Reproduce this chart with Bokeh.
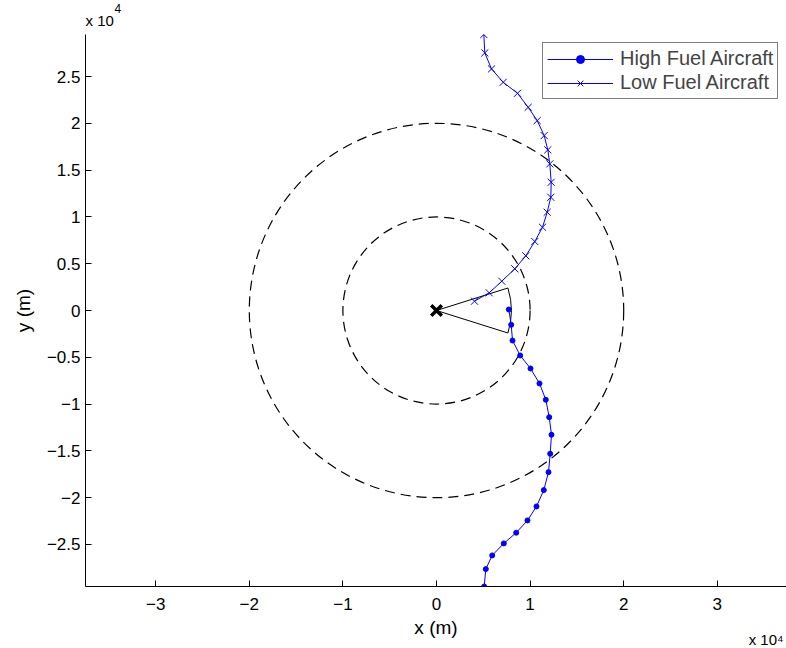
from bokeh.plotting import figure
from bokeh.models import Range1d, FixedTicker, Legend, LegendItem, Label
from bokeh.embed import file_html
from bokeh.resources import INLINE
import math

# ---- data (metres) ----
high_x = [7724, 7981, 8120, 8942, 10043, 11004, 11677, 12041, 12286, 12147,
          11966, 11464, 10684, 9722, 8515, 7190, 5951, 5267, 5096]
high_y = [107, -1528, -3205, -4808, -6197, -7799, -9541, -11400, -13280, -15310,
          -17276, -19199, -20940, -22436, -23750, -24893, -26175, -27639, -29500]

low_x = [5053, 5160, 5876, 7126, 8654, 9797, 10759, 11506, 11891, 12105,
         12254, 12212, 11827, 11325, 10502, 9541, 8365, 6977, 5630, 4060]
low_y = [29500, 27532, 25823, 24391, 23216, 21720, 20299, 18697, 17169, 15673,
         13707, 12104, 10502, 8899, 7372, 5844, 4455, 3130, 1891, 994]

ring_radii = [10000, 20000]
wedge_radius = 8000
wedge_half_angle_deg = 17.5
origin = (0, 0)

x_ticks = [-30000, -20000, -10000, 0, 10000, 20000, 30000]
x_tick_labels = ["\u22123", "\u22122", "\u22121", "0", "1", "2", "3"]
y_ticks = [-25000, -20000, -15000, -10000, -5000, 0, 5000, 10000, 15000, 20000, 25000]
y_tick_labels = ["\u22122.5", "\u22122", "\u22121.5", "\u22121", "\u22120.5", "0",
                 "0.5", "1", "1.5", "2", "2.5"]

FONT = "Liberation Sans"
FS = "17px"
BLUE = "#0000ff"

x_start, x_end = -37500, 37393
y_start, y_end = -29500, 29500

p = figure(width=786, height=648,
           x_range=Range1d(x_start, x_end), y_range=Range1d(y_start, y_end),
           output_backend="svg", toolbar_location=None,
           min_border_left=85, min_border_right=0,
           min_border_top=34, min_border_bottom=62)
p.outline_line_color = None
p.xgrid.grid_line_color = None
p.ygrid.grid_line_color = None
p.background_fill_color = "white"
p.border_fill_color = "white"

# axes
p.xaxis.ticker = FixedTicker(ticks=x_ticks)
p.xaxis.major_label_overrides = dict(zip(x_ticks, x_tick_labels))
p.yaxis.ticker = FixedTicker(ticks=y_ticks)
p.yaxis.major_label_overrides = dict(zip(y_ticks, y_tick_labels))
for ax in (p.xaxis, p.yaxis):
    ax.axis_line_color = "black"
    ax.major_tick_line_color = "black"
    ax.major_tick_in = 6
    ax.major_tick_out = 0
    ax.minor_tick_line_color = None
    ax.major_label_text_font = FONT
    ax.major_label_text_font_size = FS
    ax.major_label_text_color = "black"
    ax.axis_label_text_font = FONT
    ax.axis_label_text_font_size = "19px"
    ax.axis_label_text_font_style = "normal"
    ax.axis_label_text_color = "black"
p.xaxis.axis_label = "x (m)"
p.yaxis.axis_label = "y (m)"
p.xaxis.major_label_standoff = 11
p.yaxis.major_label_standoff = 5
p.xaxis.axis_label_standoff = 4
p.yaxis.axis_label_standoff = 10

# range rings
for r in ring_radii:
    p.circle(x=[origin[0]], y=[origin[1]], radius=r, fill_color=None,
             line_color="black", line_width=1.2, line_dash="10 6")

# wedge
half = math.radians(wedge_half_angle_deg)
p.segment(x0=[origin[0], origin[0]], y0=[origin[1], origin[1]],
          x1=[wedge_radius * math.cos(half), wedge_radius * math.cos(-half)],
          y1=[wedge_radius * math.sin(half), wedge_radius * math.sin(-half)],
          line_color="black", line_width=1)
p.arc(x=[origin[0]], y=[origin[1]], radius=wedge_radius,
      start_angle=-half, end_angle=half, line_color="black", line_width=1)

# trajectories
hl = p.line(high_x, high_y, line_color=BLUE, line_width=1)
hs = p.scatter(high_x, high_y, marker="circle", size=5, fill_color=BLUE, line_color=BLUE)
ll = p.line(low_x, low_y, line_color=BLUE, line_width=1)
ls = p.scatter(low_x, low_y, marker="x", size=10, line_color=BLUE, line_width=1)

# origin marker
p.scatter([origin[0]], [origin[1]], marker="x", size=15, line_color="black", line_width=3.5)

legend = Legend(items=[LegendItem(label="High Fuel Aircraft", renderers=[hl, hs]),
                       LegendItem(label="Low Fuel Aircraft", renderers=[ll, ls])],
                location=(457, 487))
legend.label_text_font = FONT
legend.label_text_font_size = "20px"
legend.glyph_width = 66
legend.glyph_height = 20
legend.label_height = 23
legend.label_standoff = 7
legend.spacing = 1
legend.padding = 4
legend.margin = 0
legend.border_line_color = "black"
legend.border_line_width = 1
legend.background_fill_alpha = 1
p.add_layout(legend)

# exponent labels (side panels, so they are not clipped to the frame;
# their positions come from the data anchor plus screen offsets)
lab_kw = dict(text_baseline="alphabetic", text_font=FONT, text_color="black")
p.add_layout(Label(x=x_start, y=y_end, x_offset=0, y_offset=14, text="x 10",
                   text_font_size="15px", **lab_kw), "above")
p.add_layout(Label(x=x_end, y=y_start, x_offset=-3, y_offset=-53, text="x 10\u2074",
                   text_align="right", text_font_size="15px", **lab_kw), "above")
p.add_layout(Label(x=x_start, y=y_end, x_offset=29, y_offset=26, text="4",
                   text_font_size="12px", **lab_kw), "left")

open("out.html", "w").write(file_html(p, INLINE))
